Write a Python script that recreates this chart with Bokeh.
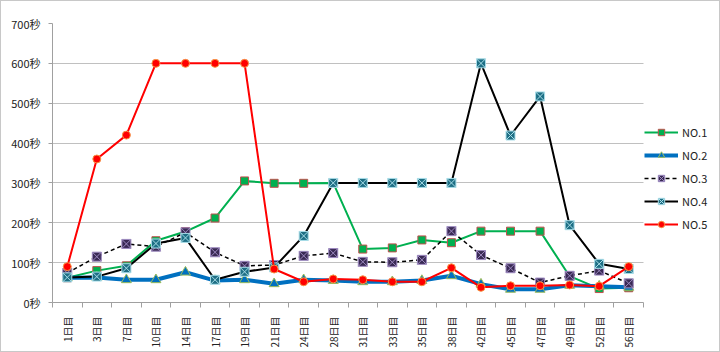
import numpy as np
from bokeh.plotting import figure
from bokeh.models import FixedTicker, Range1d, Legend, BoxAnnotation
from bokeh.embed import file_html
from bokeh.resources import INLINE

days = ["1日目", "3日目", "7日目", "10日目", "14日目", "17日目", "19日目", "21日目", "24日目", "28日目",
        "31日目", "33日目", "35日目", "38日目", "42日目", "45日目", "47日目", "49日目", "52日目", "56日目"]

no1 = [62, 80, 92, 155, 178, 212, 305, 299, 299, 300, 134, 137, 157, 150, 179, 179, 179, 66, 35, 37]
no2 = [62, 63, 57, 57, 76, 55, 57, 47, 57, 55, 52, 52, 55, 67, 46, 33, 33, 43, 41, 38]
no3 = [74, 115, 147, 140, 176, 126, 92, 94, 117, 124, 102, 101, 107, 179, 119, 86, 50, 67, 80, 48]
no4 = [63, 65, 86, 148, 162, 57, 77, 88, 167, 300, 300, 300, 300, 300, 600, 419, 517, 194, 97, 84]
no5 = [90, 360, 420, 600, 600, 600, 600, 84, 52, 59, 57, 52, 52, 87, 38, 42, 42, 44, 41, 90]

y_ticks = [0, 100, 200, 300, 400, 500, 600, 700]
y_labels = [f"{v}秒" for v in y_ticks]

FONT = "Noto Sans CJK JP"

W, H = 720, 352
LEFT, RIGHT, TOP, BOTTOM = 51, 2, 22, 51
PLOT_W = 591  # pixel width of the category area; the rest holds the legend

n = len(days)
xs = np.arange(n) + 0.5
frame_w = W - LEFT - RIGHT
x_end = n * frame_w / PLOT_W

p = figure(width=W, height=H, output_backend="svg", toolbar_location=None,
           x_range=Range1d(0, x_end), y_range=Range1d(0, 700),
           min_border_left=LEFT, min_border_right=RIGHT, min_border_top=TOP, min_border_bottom=BOTTOM)
p.styles = {"border": "1px solid #c8c8c8", "box-sizing": "border-box"}
p.outline_line_color = None
p.background_fill_color = "white"
p.border_fill_color = "white"

p.xgrid.visible = False
p.ygrid.grid_line_color = "#c0c0c0"
p.ygrid.grid_line_width = 1
p.ygrid.ticker = FixedTicker(ticks=y_ticks)
# hide grid lines beyond the category area (legend region)
p.add_layout(BoxAnnotation(left=n, fill_color="white", fill_alpha=1, line_color=None, level="underlay"))

p.yaxis.ticker = FixedTicker(ticks=y_ticks)
p.yaxis.major_label_overrides = {v: l for v, l in zip(y_ticks, y_labels)}
p.yaxis.axis_line_color = "#a0a0a0"
p.yaxis.major_tick_line_color = "#a0a0a0"
p.yaxis.major_tick_out = 4
p.yaxis.major_tick_in = 0
p.yaxis.minor_tick_line_color = None
p.yaxis.major_label_text_font = FONT
p.yaxis.major_label_text_font_size = "11px"
p.yaxis.major_label_text_color = "#222222"
p.yaxis.major_label_standoff = 8

p.xaxis.bounds = (0, n)
p.xaxis.ticker = FixedTicker(ticks=list(xs), minor_ticks=list(range(n + 1)))
p.xaxis.major_label_overrides = {float(x): d for x, d in zip(xs, days)}
p.xaxis.major_label_orientation = np.pi / 2
p.xaxis.axis_line_color = "#a0a0a0"
p.xaxis.major_tick_line_color = None
p.xaxis.minor_tick_line_color = "#a0a0a0"
p.xaxis.minor_tick_out = 5
p.xaxis.minor_tick_in = 0
p.xaxis.major_label_text_font = FONT
p.xaxis.major_label_text_font_size = "10px"
p.xaxis.major_label_text_color = "#222222"
p.xaxis.major_label_standoff = 8

r1 = p.line(xs, no1, line_color="#00b050", line_width=2)
m1 = p.scatter(xs, no1, marker="square", size=8, fill_color="#00b050", line_color="#c0504d", line_width=1)
r2 = p.line(xs, no2, line_color="#0070c0", line_width=4)
m2 = p.scatter(xs, no2, marker="triangle", size=10, fill_color="#0070c0", line_color="#9bbb59", line_width=1)
r3 = p.line(xs, no3, line_color="#000000", line_width=1.5, line_dash="4 3")
m3 = p.scatter(xs, no3, marker="square_x", size=9, fill_color="#3a2a55", line_color="#9d8ac0", line_width=1)
r4 = p.line(xs, no4, line_color="#000000", line_width=2)
m4 = p.scatter(xs, no4, marker="square_x", size=9, fill_color="#1e6f85", line_color="#a8dde8", line_width=1)
r5 = p.line(xs, no5, line_color="#ff0000", line_width=2)
m5 = p.scatter(xs, no5, marker="circle", size=8, fill_color="#ff0000", line_color="#f79646", line_width=1)

legend = Legend(items=[("NO.1", [r1, m1]), ("NO.2", [r2, m2]), ("NO.3", [r3, m3]),
                       ("NO.4", [r4, m4]), ("NO.5", [r5, m5])],
                location=(PLOT_W + 1, 70))
legend.border_line_color = None
legend.background_fill_alpha = 0
legend.padding = 0
legend.margin = 0
legend.spacing = 7
legend.glyph_width = 34
legend.glyph_height = 16
legend.label_height = 16
legend.label_standoff = 4
legend.label_text_font = FONT
legend.label_text_font_size = "11px"
legend.label_text_color = "#222222"
p.add_layout(legend, "center")

open("out.html", "w").write(file_html(p, INLINE))
